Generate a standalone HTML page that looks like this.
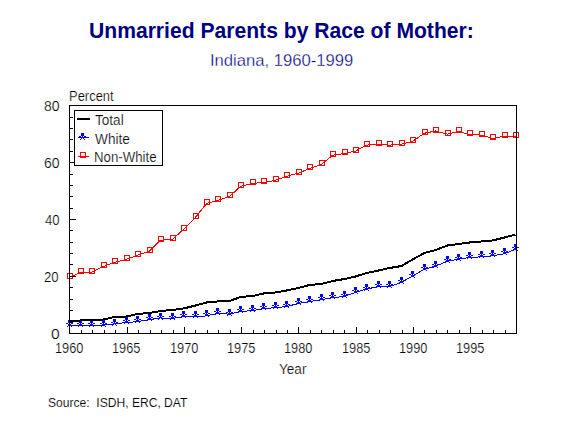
<!DOCTYPE html>
<html><head><meta charset="utf-8"><style>
html,body{margin:0;padding:0;background:#fff;width:566px;height:425px;overflow:hidden;}
svg{display:block;}
text{white-space:pre;}
</style></head><body>
<svg width="566" height="425" viewBox="0 0 566 425">
<polyline points="69.50,325.60 80.50,325.60 91.50,325.40 103.50,325.10 114.50,324.00 126.50,322.40 137.50,321.70 149.50,319.60 160.50,318.00 172.50,318.50 183.50,316.60 195.50,316.90 206.50,315.90 217.50,313.40 229.50,314.20 240.50,311.40 252.50,310.70 263.50,308.60 275.50,307.70 286.50,306.60 298.50,303.40 309.50,301.50 321.50,299.60 332.50,297.60 344.50,296.50 355.50,292.30 366.50,289.10 378.50,286.50 389.50,286.70 401.50,282.30 412.50,276.10 424.50,269.20 435.50,266.20 447.50,261.20 458.50,259.30 469.50,257.30 481.50,256.90 492.50,255.70 504.50,253.80 515.50,249.20" fill="none" stroke="#00f" stroke-width="1" shape-rendering="crispEdges"/>
<polyline points="69.50,277.30 80.50,272.40 91.50,272.40 103.50,266.40 114.50,262.50 126.50,259.30 137.50,255.30 149.50,251.20 160.50,240.20 172.50,239.20 183.50,229.40 195.50,217.30 206.50,203.50 217.50,200.40 229.50,196.50 240.50,186.30 252.50,183.30 263.50,182.50 275.50,180.30 286.50,176.30 298.50,173.10 309.50,168.50 321.50,164.30 332.50,155.30 344.50,153.50 355.50,151.10 366.50,145.10 378.50,144.10 389.50,145.10 401.50,144.10 412.50,141.30 424.50,133.20 435.50,131.00 447.50,134.20 458.50,131.40 469.50,134.40 481.50,135.20 492.50,138.40 504.50,136.30 515.50,136.30" fill="none" stroke="#f00" stroke-width="1" shape-rendering="crispEdges"/>
<g shape-rendering="crispEdges" fill="#00f">
<rect x="68" y="320" width="3" height="3"/><rect x="66" y="323" width="1" height="1"/><rect x="67" y="323" width="1" height="1"/><rect x="69" y="323" width="1" height="1"/><rect x="71" y="323" width="1" height="1"/><rect x="72" y="323" width="1" height="1"/><rect x="68" y="324" width="3" height="1"/><rect x="68" y="325" width="1" height="1"/><rect x="70" y="325" width="1" height="1"/><rect x="67" y="326" width="1" height="1"/><rect x="71" y="326" width="1" height="1"/>
<rect x="79" y="320" width="3" height="3"/><rect x="77" y="323" width="1" height="1"/><rect x="78" y="323" width="1" height="1"/><rect x="80" y="323" width="1" height="1"/><rect x="82" y="323" width="1" height="1"/><rect x="83" y="323" width="1" height="1"/><rect x="79" y="324" width="3" height="1"/><rect x="79" y="325" width="1" height="1"/><rect x="81" y="325" width="1" height="1"/><rect x="78" y="326" width="1" height="1"/><rect x="82" y="326" width="1" height="1"/>
<rect x="90" y="320" width="3" height="3"/><rect x="88" y="323" width="1" height="1"/><rect x="89" y="323" width="1" height="1"/><rect x="91" y="323" width="1" height="1"/><rect x="93" y="323" width="1" height="1"/><rect x="94" y="323" width="1" height="1"/><rect x="90" y="324" width="3" height="1"/><rect x="90" y="325" width="1" height="1"/><rect x="92" y="325" width="1" height="1"/><rect x="89" y="326" width="1" height="1"/><rect x="93" y="326" width="1" height="1"/>
<rect x="102" y="320" width="3" height="3"/><rect x="100" y="323" width="1" height="1"/><rect x="101" y="323" width="1" height="1"/><rect x="103" y="323" width="1" height="1"/><rect x="105" y="323" width="1" height="1"/><rect x="106" y="323" width="1" height="1"/><rect x="102" y="324" width="3" height="1"/><rect x="102" y="325" width="1" height="1"/><rect x="104" y="325" width="1" height="1"/><rect x="101" y="326" width="1" height="1"/><rect x="105" y="326" width="1" height="1"/>
<rect x="113" y="319" width="3" height="3"/><rect x="111" y="322" width="1" height="1"/><rect x="112" y="322" width="1" height="1"/><rect x="114" y="322" width="1" height="1"/><rect x="116" y="322" width="1" height="1"/><rect x="117" y="322" width="1" height="1"/><rect x="113" y="323" width="3" height="1"/><rect x="113" y="324" width="1" height="1"/><rect x="115" y="324" width="1" height="1"/><rect x="112" y="325" width="1" height="1"/><rect x="116" y="325" width="1" height="1"/>
<rect x="125" y="317" width="3" height="3"/><rect x="123" y="320" width="1" height="1"/><rect x="124" y="320" width="1" height="1"/><rect x="126" y="320" width="1" height="1"/><rect x="128" y="320" width="1" height="1"/><rect x="129" y="320" width="1" height="1"/><rect x="125" y="321" width="3" height="1"/><rect x="125" y="322" width="1" height="1"/><rect x="127" y="322" width="1" height="1"/><rect x="124" y="323" width="1" height="1"/><rect x="128" y="323" width="1" height="1"/>
<rect x="136" y="316" width="3" height="3"/><rect x="134" y="319" width="1" height="1"/><rect x="135" y="319" width="1" height="1"/><rect x="137" y="319" width="1" height="1"/><rect x="139" y="319" width="1" height="1"/><rect x="140" y="319" width="1" height="1"/><rect x="136" y="320" width="3" height="1"/><rect x="136" y="321" width="1" height="1"/><rect x="138" y="321" width="1" height="1"/><rect x="135" y="322" width="1" height="1"/><rect x="139" y="322" width="1" height="1"/>
<rect x="148" y="314" width="3" height="3"/><rect x="146" y="317" width="1" height="1"/><rect x="147" y="317" width="1" height="1"/><rect x="149" y="317" width="1" height="1"/><rect x="151" y="317" width="1" height="1"/><rect x="152" y="317" width="1" height="1"/><rect x="148" y="318" width="3" height="1"/><rect x="148" y="319" width="1" height="1"/><rect x="150" y="319" width="1" height="1"/><rect x="147" y="320" width="1" height="1"/><rect x="151" y="320" width="1" height="1"/>
<rect x="159" y="313" width="3" height="3"/><rect x="157" y="316" width="1" height="1"/><rect x="158" y="316" width="1" height="1"/><rect x="160" y="316" width="1" height="1"/><rect x="162" y="316" width="1" height="1"/><rect x="163" y="316" width="1" height="1"/><rect x="159" y="317" width="3" height="1"/><rect x="159" y="318" width="1" height="1"/><rect x="161" y="318" width="1" height="1"/><rect x="158" y="319" width="1" height="1"/><rect x="162" y="319" width="1" height="1"/>
<rect x="171" y="313" width="3" height="3"/><rect x="169" y="316" width="1" height="1"/><rect x="170" y="316" width="1" height="1"/><rect x="172" y="316" width="1" height="1"/><rect x="174" y="316" width="1" height="1"/><rect x="175" y="316" width="1" height="1"/><rect x="171" y="317" width="3" height="1"/><rect x="171" y="318" width="1" height="1"/><rect x="173" y="318" width="1" height="1"/><rect x="170" y="319" width="1" height="1"/><rect x="174" y="319" width="1" height="1"/>
<rect x="182" y="311" width="3" height="3"/><rect x="180" y="314" width="1" height="1"/><rect x="181" y="314" width="1" height="1"/><rect x="183" y="314" width="1" height="1"/><rect x="185" y="314" width="1" height="1"/><rect x="186" y="314" width="1" height="1"/><rect x="182" y="315" width="3" height="1"/><rect x="182" y="316" width="1" height="1"/><rect x="184" y="316" width="1" height="1"/><rect x="181" y="317" width="1" height="1"/><rect x="185" y="317" width="1" height="1"/>
<rect x="194" y="311" width="3" height="3"/><rect x="192" y="314" width="1" height="1"/><rect x="193" y="314" width="1" height="1"/><rect x="195" y="314" width="1" height="1"/><rect x="197" y="314" width="1" height="1"/><rect x="198" y="314" width="1" height="1"/><rect x="194" y="315" width="3" height="1"/><rect x="194" y="316" width="1" height="1"/><rect x="196" y="316" width="1" height="1"/><rect x="193" y="317" width="1" height="1"/><rect x="197" y="317" width="1" height="1"/>
<rect x="205" y="310" width="3" height="3"/><rect x="203" y="313" width="1" height="1"/><rect x="204" y="313" width="1" height="1"/><rect x="206" y="313" width="1" height="1"/><rect x="208" y="313" width="1" height="1"/><rect x="209" y="313" width="1" height="1"/><rect x="205" y="314" width="3" height="1"/><rect x="205" y="315" width="1" height="1"/><rect x="207" y="315" width="1" height="1"/><rect x="204" y="316" width="1" height="1"/><rect x="208" y="316" width="1" height="1"/>
<rect x="216" y="308" width="3" height="3"/><rect x="214" y="311" width="1" height="1"/><rect x="215" y="311" width="1" height="1"/><rect x="217" y="311" width="1" height="1"/><rect x="219" y="311" width="1" height="1"/><rect x="220" y="311" width="1" height="1"/><rect x="216" y="312" width="3" height="1"/><rect x="216" y="313" width="1" height="1"/><rect x="218" y="313" width="1" height="1"/><rect x="215" y="314" width="1" height="1"/><rect x="219" y="314" width="1" height="1"/>
<rect x="228" y="309" width="3" height="3"/><rect x="226" y="312" width="1" height="1"/><rect x="227" y="312" width="1" height="1"/><rect x="229" y="312" width="1" height="1"/><rect x="231" y="312" width="1" height="1"/><rect x="232" y="312" width="1" height="1"/><rect x="228" y="313" width="3" height="1"/><rect x="228" y="314" width="1" height="1"/><rect x="230" y="314" width="1" height="1"/><rect x="227" y="315" width="1" height="1"/><rect x="231" y="315" width="1" height="1"/>
<rect x="239" y="306" width="3" height="3"/><rect x="237" y="309" width="1" height="1"/><rect x="238" y="309" width="1" height="1"/><rect x="240" y="309" width="1" height="1"/><rect x="242" y="309" width="1" height="1"/><rect x="243" y="309" width="1" height="1"/><rect x="239" y="310" width="3" height="1"/><rect x="239" y="311" width="1" height="1"/><rect x="241" y="311" width="1" height="1"/><rect x="238" y="312" width="1" height="1"/><rect x="242" y="312" width="1" height="1"/>
<rect x="251" y="305" width="3" height="3"/><rect x="249" y="308" width="1" height="1"/><rect x="250" y="308" width="1" height="1"/><rect x="252" y="308" width="1" height="1"/><rect x="254" y="308" width="1" height="1"/><rect x="255" y="308" width="1" height="1"/><rect x="251" y="309" width="3" height="1"/><rect x="251" y="310" width="1" height="1"/><rect x="253" y="310" width="1" height="1"/><rect x="250" y="311" width="1" height="1"/><rect x="254" y="311" width="1" height="1"/>
<rect x="262" y="303" width="3" height="3"/><rect x="260" y="306" width="1" height="1"/><rect x="261" y="306" width="1" height="1"/><rect x="263" y="306" width="1" height="1"/><rect x="265" y="306" width="1" height="1"/><rect x="266" y="306" width="1" height="1"/><rect x="262" y="307" width="3" height="1"/><rect x="262" y="308" width="1" height="1"/><rect x="264" y="308" width="1" height="1"/><rect x="261" y="309" width="1" height="1"/><rect x="265" y="309" width="1" height="1"/>
<rect x="274" y="302" width="3" height="3"/><rect x="272" y="305" width="1" height="1"/><rect x="273" y="305" width="1" height="1"/><rect x="275" y="305" width="1" height="1"/><rect x="277" y="305" width="1" height="1"/><rect x="278" y="305" width="1" height="1"/><rect x="274" y="306" width="3" height="1"/><rect x="274" y="307" width="1" height="1"/><rect x="276" y="307" width="1" height="1"/><rect x="273" y="308" width="1" height="1"/><rect x="277" y="308" width="1" height="1"/>
<rect x="285" y="301" width="3" height="3"/><rect x="283" y="304" width="1" height="1"/><rect x="284" y="304" width="1" height="1"/><rect x="286" y="304" width="1" height="1"/><rect x="288" y="304" width="1" height="1"/><rect x="289" y="304" width="1" height="1"/><rect x="285" y="305" width="3" height="1"/><rect x="285" y="306" width="1" height="1"/><rect x="287" y="306" width="1" height="1"/><rect x="284" y="307" width="1" height="1"/><rect x="288" y="307" width="1" height="1"/>
<rect x="297" y="298" width="3" height="3"/><rect x="295" y="301" width="1" height="1"/><rect x="296" y="301" width="1" height="1"/><rect x="298" y="301" width="1" height="1"/><rect x="300" y="301" width="1" height="1"/><rect x="301" y="301" width="1" height="1"/><rect x="297" y="302" width="3" height="1"/><rect x="297" y="303" width="1" height="1"/><rect x="299" y="303" width="1" height="1"/><rect x="296" y="304" width="1" height="1"/><rect x="300" y="304" width="1" height="1"/>
<rect x="308" y="296" width="3" height="3"/><rect x="306" y="299" width="1" height="1"/><rect x="307" y="299" width="1" height="1"/><rect x="309" y="299" width="1" height="1"/><rect x="311" y="299" width="1" height="1"/><rect x="312" y="299" width="1" height="1"/><rect x="308" y="300" width="3" height="1"/><rect x="308" y="301" width="1" height="1"/><rect x="310" y="301" width="1" height="1"/><rect x="307" y="302" width="1" height="1"/><rect x="311" y="302" width="1" height="1"/>
<rect x="320" y="294" width="3" height="3"/><rect x="318" y="297" width="1" height="1"/><rect x="319" y="297" width="1" height="1"/><rect x="321" y="297" width="1" height="1"/><rect x="323" y="297" width="1" height="1"/><rect x="324" y="297" width="1" height="1"/><rect x="320" y="298" width="3" height="1"/><rect x="320" y="299" width="1" height="1"/><rect x="322" y="299" width="1" height="1"/><rect x="319" y="300" width="1" height="1"/><rect x="323" y="300" width="1" height="1"/>
<rect x="331" y="292" width="3" height="3"/><rect x="329" y="295" width="1" height="1"/><rect x="330" y="295" width="1" height="1"/><rect x="332" y="295" width="1" height="1"/><rect x="334" y="295" width="1" height="1"/><rect x="335" y="295" width="1" height="1"/><rect x="331" y="296" width="3" height="1"/><rect x="331" y="297" width="1" height="1"/><rect x="333" y="297" width="1" height="1"/><rect x="330" y="298" width="1" height="1"/><rect x="334" y="298" width="1" height="1"/>
<rect x="343" y="291" width="3" height="3"/><rect x="341" y="294" width="1" height="1"/><rect x="342" y="294" width="1" height="1"/><rect x="344" y="294" width="1" height="1"/><rect x="346" y="294" width="1" height="1"/><rect x="347" y="294" width="1" height="1"/><rect x="343" y="295" width="3" height="1"/><rect x="343" y="296" width="1" height="1"/><rect x="345" y="296" width="1" height="1"/><rect x="342" y="297" width="1" height="1"/><rect x="346" y="297" width="1" height="1"/>
<rect x="354" y="287" width="3" height="3"/><rect x="352" y="290" width="1" height="1"/><rect x="353" y="290" width="1" height="1"/><rect x="355" y="290" width="1" height="1"/><rect x="357" y="290" width="1" height="1"/><rect x="358" y="290" width="1" height="1"/><rect x="354" y="291" width="3" height="1"/><rect x="354" y="292" width="1" height="1"/><rect x="356" y="292" width="1" height="1"/><rect x="353" y="293" width="1" height="1"/><rect x="357" y="293" width="1" height="1"/>
<rect x="365" y="284" width="3" height="3"/><rect x="363" y="287" width="1" height="1"/><rect x="364" y="287" width="1" height="1"/><rect x="366" y="287" width="1" height="1"/><rect x="368" y="287" width="1" height="1"/><rect x="369" y="287" width="1" height="1"/><rect x="365" y="288" width="3" height="1"/><rect x="365" y="289" width="1" height="1"/><rect x="367" y="289" width="1" height="1"/><rect x="364" y="290" width="1" height="1"/><rect x="368" y="290" width="1" height="1"/>
<rect x="377" y="281" width="3" height="3"/><rect x="375" y="284" width="1" height="1"/><rect x="376" y="284" width="1" height="1"/><rect x="378" y="284" width="1" height="1"/><rect x="380" y="284" width="1" height="1"/><rect x="381" y="284" width="1" height="1"/><rect x="377" y="285" width="3" height="1"/><rect x="377" y="286" width="1" height="1"/><rect x="379" y="286" width="1" height="1"/><rect x="376" y="287" width="1" height="1"/><rect x="380" y="287" width="1" height="1"/>
<rect x="388" y="281" width="3" height="3"/><rect x="386" y="284" width="1" height="1"/><rect x="387" y="284" width="1" height="1"/><rect x="389" y="284" width="1" height="1"/><rect x="391" y="284" width="1" height="1"/><rect x="392" y="284" width="1" height="1"/><rect x="388" y="285" width="3" height="1"/><rect x="388" y="286" width="1" height="1"/><rect x="390" y="286" width="1" height="1"/><rect x="387" y="287" width="1" height="1"/><rect x="391" y="287" width="1" height="1"/>
<rect x="400" y="277" width="3" height="3"/><rect x="398" y="280" width="1" height="1"/><rect x="399" y="280" width="1" height="1"/><rect x="401" y="280" width="1" height="1"/><rect x="403" y="280" width="1" height="1"/><rect x="404" y="280" width="1" height="1"/><rect x="400" y="281" width="3" height="1"/><rect x="400" y="282" width="1" height="1"/><rect x="402" y="282" width="1" height="1"/><rect x="399" y="283" width="1" height="1"/><rect x="403" y="283" width="1" height="1"/>
<rect x="411" y="271" width="3" height="3"/><rect x="409" y="274" width="1" height="1"/><rect x="410" y="274" width="1" height="1"/><rect x="412" y="274" width="1" height="1"/><rect x="414" y="274" width="1" height="1"/><rect x="415" y="274" width="1" height="1"/><rect x="411" y="275" width="3" height="1"/><rect x="411" y="276" width="1" height="1"/><rect x="413" y="276" width="1" height="1"/><rect x="410" y="277" width="1" height="1"/><rect x="414" y="277" width="1" height="1"/>
<rect x="423" y="264" width="3" height="3"/><rect x="421" y="267" width="1" height="1"/><rect x="422" y="267" width="1" height="1"/><rect x="424" y="267" width="1" height="1"/><rect x="426" y="267" width="1" height="1"/><rect x="427" y="267" width="1" height="1"/><rect x="423" y="268" width="3" height="1"/><rect x="423" y="269" width="1" height="1"/><rect x="425" y="269" width="1" height="1"/><rect x="422" y="270" width="1" height="1"/><rect x="426" y="270" width="1" height="1"/>
<rect x="434" y="261" width="3" height="3"/><rect x="432" y="264" width="1" height="1"/><rect x="433" y="264" width="1" height="1"/><rect x="435" y="264" width="1" height="1"/><rect x="437" y="264" width="1" height="1"/><rect x="438" y="264" width="1" height="1"/><rect x="434" y="265" width="3" height="1"/><rect x="434" y="266" width="1" height="1"/><rect x="436" y="266" width="1" height="1"/><rect x="433" y="267" width="1" height="1"/><rect x="437" y="267" width="1" height="1"/>
<rect x="446" y="256" width="3" height="3"/><rect x="444" y="259" width="1" height="1"/><rect x="445" y="259" width="1" height="1"/><rect x="447" y="259" width="1" height="1"/><rect x="449" y="259" width="1" height="1"/><rect x="450" y="259" width="1" height="1"/><rect x="446" y="260" width="3" height="1"/><rect x="446" y="261" width="1" height="1"/><rect x="448" y="261" width="1" height="1"/><rect x="445" y="262" width="1" height="1"/><rect x="449" y="262" width="1" height="1"/>
<rect x="457" y="254" width="3" height="3"/><rect x="455" y="257" width="1" height="1"/><rect x="456" y="257" width="1" height="1"/><rect x="458" y="257" width="1" height="1"/><rect x="460" y="257" width="1" height="1"/><rect x="461" y="257" width="1" height="1"/><rect x="457" y="258" width="3" height="1"/><rect x="457" y="259" width="1" height="1"/><rect x="459" y="259" width="1" height="1"/><rect x="456" y="260" width="1" height="1"/><rect x="460" y="260" width="1" height="1"/>
<rect x="468" y="252" width="3" height="3"/><rect x="466" y="255" width="1" height="1"/><rect x="467" y="255" width="1" height="1"/><rect x="469" y="255" width="1" height="1"/><rect x="471" y="255" width="1" height="1"/><rect x="472" y="255" width="1" height="1"/><rect x="468" y="256" width="3" height="1"/><rect x="468" y="257" width="1" height="1"/><rect x="470" y="257" width="1" height="1"/><rect x="467" y="258" width="1" height="1"/><rect x="471" y="258" width="1" height="1"/>
<rect x="480" y="251" width="3" height="3"/><rect x="478" y="254" width="1" height="1"/><rect x="479" y="254" width="1" height="1"/><rect x="481" y="254" width="1" height="1"/><rect x="483" y="254" width="1" height="1"/><rect x="484" y="254" width="1" height="1"/><rect x="480" y="255" width="3" height="1"/><rect x="480" y="256" width="1" height="1"/><rect x="482" y="256" width="1" height="1"/><rect x="479" y="257" width="1" height="1"/><rect x="483" y="257" width="1" height="1"/>
<rect x="491" y="250" width="3" height="3"/><rect x="489" y="253" width="1" height="1"/><rect x="490" y="253" width="1" height="1"/><rect x="492" y="253" width="1" height="1"/><rect x="494" y="253" width="1" height="1"/><rect x="495" y="253" width="1" height="1"/><rect x="491" y="254" width="3" height="1"/><rect x="491" y="255" width="1" height="1"/><rect x="493" y="255" width="1" height="1"/><rect x="490" y="256" width="1" height="1"/><rect x="494" y="256" width="1" height="1"/>
<rect x="503" y="248" width="3" height="3"/><rect x="501" y="251" width="1" height="1"/><rect x="502" y="251" width="1" height="1"/><rect x="504" y="251" width="1" height="1"/><rect x="506" y="251" width="1" height="1"/><rect x="507" y="251" width="1" height="1"/><rect x="503" y="252" width="3" height="1"/><rect x="503" y="253" width="1" height="1"/><rect x="505" y="253" width="1" height="1"/><rect x="502" y="254" width="1" height="1"/><rect x="506" y="254" width="1" height="1"/>
<rect x="514" y="244" width="3" height="3"/><rect x="512" y="247" width="1" height="1"/><rect x="513" y="247" width="1" height="1"/><rect x="515" y="247" width="1" height="1"/><rect x="517" y="247" width="1" height="1"/><rect x="518" y="247" width="1" height="1"/><rect x="514" y="248" width="3" height="1"/><rect x="514" y="249" width="1" height="1"/><rect x="516" y="249" width="1" height="1"/><rect x="513" y="250" width="1" height="1"/><rect x="517" y="250" width="1" height="1"/>
</g>
<g fill="none" stroke="#f00" stroke-width="1" shape-rendering="crispEdges">
<rect x="67.5" y="273.5" width="5" height="5"/>
<rect x="78.5" y="268.5" width="5" height="5"/>
<rect x="89.5" y="268.5" width="5" height="5"/>
<rect x="101.5" y="262.5" width="5" height="5"/>
<rect x="112.5" y="258.5" width="5" height="5"/>
<rect x="124.5" y="255.5" width="5" height="5"/>
<rect x="135.5" y="251.5" width="5" height="5"/>
<rect x="147.5" y="247.5" width="5" height="5"/>
<rect x="158.5" y="236.5" width="5" height="5"/>
<rect x="170.5" y="235.5" width="5" height="5"/>
<rect x="181.5" y="225.5" width="5" height="5"/>
<rect x="193.5" y="213.5" width="5" height="5"/>
<rect x="204.5" y="199.5" width="5" height="5"/>
<rect x="215.5" y="196.5" width="5" height="5"/>
<rect x="227.5" y="192.5" width="5" height="5"/>
<rect x="238.5" y="182.5" width="5" height="5"/>
<rect x="250.5" y="179.5" width="5" height="5"/>
<rect x="261.5" y="178.5" width="5" height="5"/>
<rect x="273.5" y="176.5" width="5" height="5"/>
<rect x="284.5" y="172.5" width="5" height="5"/>
<rect x="296.5" y="169.5" width="5" height="5"/>
<rect x="307.5" y="164.5" width="5" height="5"/>
<rect x="319.5" y="160.5" width="5" height="5"/>
<rect x="330.5" y="151.5" width="5" height="5"/>
<rect x="342.5" y="149.5" width="5" height="5"/>
<rect x="353.5" y="147.5" width="5" height="5"/>
<rect x="364.5" y="141.5" width="5" height="5"/>
<rect x="376.5" y="140.5" width="5" height="5"/>
<rect x="387.5" y="141.5" width="5" height="5"/>
<rect x="399.5" y="140.5" width="5" height="5"/>
<rect x="410.5" y="137.5" width="5" height="5"/>
<rect x="422.5" y="129.5" width="5" height="5"/>
<rect x="433.5" y="127.5" width="5" height="5"/>
<rect x="445.5" y="130.5" width="5" height="5"/>
<rect x="456.5" y="127.5" width="5" height="5"/>
<rect x="467.5" y="130.5" width="5" height="5"/>
<rect x="479.5" y="131.5" width="5" height="5"/>
<rect x="490.5" y="134.5" width="5" height="5"/>
<rect x="502.5" y="132.5" width="5" height="5"/>
<rect x="513.5" y="132.5" width="5" height="5"/>
</g>
<polyline points="69.50,321.00 80.50,320.50 91.50,320.00 103.50,319.50 114.50,317.00 126.50,316.50 137.50,314.00 149.50,313.00 160.50,311.00 172.50,310.00 183.50,308.50 195.50,305.50 206.50,302.50 217.50,301.50 229.50,301.00 240.50,297.00 252.50,296.00 263.50,293.50 275.50,292.50 286.50,290.50 298.50,288.00 309.50,285.00 321.50,284.00 332.50,281.00 344.50,279.00 355.50,276.50 366.50,273.00 378.50,270.50 389.50,268.00 401.50,266.00 412.50,259.50 424.50,253.00 435.50,250.00 447.50,245.50 458.50,244.00 469.50,242.50 481.50,241.50 492.50,240.50 504.50,237.50 515.50,234.50" fill="none" stroke="#000" stroke-width="2" shape-rendering="crispEdges"/>
<g shape-rendering="crispEdges" fill="#000">
<rect x="69" y="105" width="448" height="1"/>
<rect x="69" y="333" width="448" height="1"/>
<rect x="69" y="105" width="1" height="229"/>
<rect x="516" y="105" width="1" height="229"/>
<rect x="70" y="333" width="6" height="1"/>
<rect x="70" y="322" width="3" height="1"/>
<rect x="70" y="310" width="3" height="1"/>
<rect x="70" y="299" width="3" height="1"/>
<rect x="70" y="287" width="3" height="1"/>
<rect x="70" y="276" width="6" height="1"/>
<rect x="70" y="264" width="3" height="1"/>
<rect x="70" y="253" width="3" height="1"/>
<rect x="70" y="242" width="3" height="1"/>
<rect x="70" y="230" width="3" height="1"/>
<rect x="70" y="219" width="6" height="1"/>
<rect x="70" y="208" width="3" height="1"/>
<rect x="70" y="196" width="3" height="1"/>
<rect x="70" y="185" width="3" height="1"/>
<rect x="70" y="174" width="3" height="1"/>
<rect x="70" y="162" width="6" height="1"/>
<rect x="70" y="151" width="3" height="1"/>
<rect x="70" y="139" width="3" height="1"/>
<rect x="70" y="128" width="3" height="1"/>
<rect x="70" y="117" width="3" height="1"/>
<rect x="70" y="105" width="6" height="1"/>
<rect x="69" y="327" width="1" height="6"/>
<rect x="81" y="330" width="1" height="3"/>
<rect x="92" y="330" width="1" height="3"/>
<rect x="104" y="330" width="1" height="3"/>
<rect x="115" y="330" width="1" height="3"/>
<rect x="127" y="327" width="1" height="6"/>
<rect x="138" y="330" width="1" height="3"/>
<rect x="150" y="330" width="1" height="3"/>
<rect x="161" y="330" width="1" height="3"/>
<rect x="173" y="330" width="1" height="3"/>
<rect x="184" y="327" width="1" height="6"/>
<rect x="195" y="330" width="1" height="3"/>
<rect x="207" y="330" width="1" height="3"/>
<rect x="218" y="330" width="1" height="3"/>
<rect x="230" y="330" width="1" height="3"/>
<rect x="241" y="327" width="1" height="6"/>
<rect x="253" y="330" width="1" height="3"/>
<rect x="264" y="330" width="1" height="3"/>
<rect x="276" y="330" width="1" height="3"/>
<rect x="287" y="330" width="1" height="3"/>
<rect x="298" y="327" width="1" height="6"/>
<rect x="310" y="330" width="1" height="3"/>
<rect x="321" y="330" width="1" height="3"/>
<rect x="333" y="330" width="1" height="3"/>
<rect x="344" y="330" width="1" height="3"/>
<rect x="356" y="327" width="1" height="6"/>
<rect x="367" y="330" width="1" height="3"/>
<rect x="379" y="330" width="1" height="3"/>
<rect x="390" y="330" width="1" height="3"/>
<rect x="402" y="330" width="1" height="3"/>
<rect x="413" y="327" width="1" height="6"/>
<rect x="424" y="330" width="1" height="3"/>
<rect x="436" y="330" width="1" height="3"/>
<rect x="447" y="330" width="1" height="3"/>
<rect x="459" y="330" width="1" height="3"/>
<rect x="470" y="327" width="1" height="6"/>
<rect x="482" y="330" width="1" height="3"/>
<rect x="493" y="330" width="1" height="3"/>
<rect x="505" y="330" width="1" height="3"/>
<rect x="516" y="330" width="1" height="3"/>
</g>
<g shape-rendering="crispEdges">
<rect x="74.5" y="110.5" width="88" height="55" fill="#fff" stroke="#000" stroke-width="1"/>
<rect x="77" y="118" width="13" height="2" fill="#000"/>
<rect x="78" y="137" width="11" height="1" fill="#00f"/>
<g fill="#00f"><rect x="81" y="133" width="3" height="3"/><rect x="79" y="136" width="1" height="1"/><rect x="80" y="136" width="1" height="1"/><rect x="82" y="136" width="1" height="1"/><rect x="84" y="136" width="1" height="1"/><rect x="85" y="136" width="1" height="1"/><rect x="81" y="137" width="3" height="1"/><rect x="81" y="138" width="1" height="1"/><rect x="83" y="138" width="1" height="1"/><rect x="80" y="139" width="1" height="1"/><rect x="84" y="139" width="1" height="1"/></g>
<rect x="78" y="156" width="11" height="1" fill="#f00"/>
<g fill="none" stroke="#f00"><rect x="80.5" y="152.5" width="5" height="5"/></g>
</g>
<text x="89.00" y="38" font-size="21.5" fill="#000080" font-weight="bold" textLength="384.78" lengthAdjust="spacingAndGlyphs" font-family="&quot;Liberation Sans&quot;, sans-serif">Unmarried Parents by Race of Mother:</text>
<text x="210.00" y="66" font-size="16" fill="#000080" stroke="#fff" stroke-width="0.3" textLength="143.31" lengthAdjust="spacingAndGlyphs" font-family="&quot;Liberation Sans&quot;, sans-serif">Indiana, 1960-1999</text>
<text x="69.00" y="101" font-size="14" fill="#000" stroke="#fff" stroke-width="0.22" textLength="44.65" lengthAdjust="spacingAndGlyphs" font-family="&quot;Liberation Sans&quot;, sans-serif">Percent</text>
<text x="95.00" y="125" font-size="14" fill="#000" stroke="#fff" stroke-width="0.22" textLength="28.68" lengthAdjust="spacingAndGlyphs" font-family="&quot;Liberation Sans&quot;, sans-serif">Total</text>
<text x="95.00" y="144" font-size="14" fill="#000" stroke="#fff" stroke-width="0.22" textLength="34.90" lengthAdjust="spacingAndGlyphs" font-family="&quot;Liberation Sans&quot;, sans-serif">White</text>
<text x="94.00" y="162" font-size="14" fill="#000" stroke="#fff" stroke-width="0.22" textLength="62.54" lengthAdjust="spacingAndGlyphs" font-family="&quot;Liberation Sans&quot;, sans-serif">Non-White</text>
<text x="44.00" y="111" font-size="14" fill="#000" stroke="#fff" stroke-width="0.22" textLength="15.58" lengthAdjust="spacingAndGlyphs" font-family="&quot;Liberation Sans&quot;, sans-serif">80</text>
<text x="44.00" y="168" font-size="14" fill="#000" stroke="#fff" stroke-width="0.22" textLength="15.58" lengthAdjust="spacingAndGlyphs" font-family="&quot;Liberation Sans&quot;, sans-serif">60</text>
<text x="45.00" y="225" font-size="14" fill="#000" stroke="#fff" stroke-width="0.22" textLength="14.68" lengthAdjust="spacingAndGlyphs" font-family="&quot;Liberation Sans&quot;, sans-serif">40</text>
<text x="44.00" y="282" font-size="14" fill="#000" stroke="#fff" stroke-width="0.22" textLength="14.68" lengthAdjust="spacingAndGlyphs" font-family="&quot;Liberation Sans&quot;, sans-serif">20</text>
<text x="51.00" y="339" font-size="14" fill="#000" stroke="#fff" stroke-width="0.22" textLength="8.70" lengthAdjust="spacingAndGlyphs" font-family="&quot;Liberation Sans&quot;, sans-serif">0</text>
<text x="55.00" y="353" font-size="14" fill="#000" stroke="#fff" stroke-width="0.22" textLength="28.46" lengthAdjust="spacingAndGlyphs" font-family="&quot;Liberation Sans&quot;, sans-serif">1960</text>
<text x="112.00" y="353" font-size="14" fill="#000" stroke="#fff" stroke-width="0.22" textLength="28.46" lengthAdjust="spacingAndGlyphs" font-family="&quot;Liberation Sans&quot;, sans-serif">1965</text>
<text x="170.00" y="353" font-size="14" fill="#000" stroke="#fff" stroke-width="0.22" textLength="28.46" lengthAdjust="spacingAndGlyphs" font-family="&quot;Liberation Sans&quot;, sans-serif">1970</text>
<text x="227.00" y="353" font-size="14" fill="#000" stroke="#fff" stroke-width="0.22" textLength="28.46" lengthAdjust="spacingAndGlyphs" font-family="&quot;Liberation Sans&quot;, sans-serif">1975</text>
<text x="284.00" y="353" font-size="14" fill="#000" stroke="#fff" stroke-width="0.22" textLength="28.46" lengthAdjust="spacingAndGlyphs" font-family="&quot;Liberation Sans&quot;, sans-serif">1980</text>
<text x="342.00" y="353" font-size="14" fill="#000" stroke="#fff" stroke-width="0.22" textLength="28.46" lengthAdjust="spacingAndGlyphs" font-family="&quot;Liberation Sans&quot;, sans-serif">1985</text>
<text x="399.00" y="353" font-size="14" fill="#000" stroke="#fff" stroke-width="0.22" textLength="28.46" lengthAdjust="spacingAndGlyphs" font-family="&quot;Liberation Sans&quot;, sans-serif">1990</text>
<text x="456.00" y="353" font-size="14" fill="#000" stroke="#fff" stroke-width="0.22" textLength="28.46" lengthAdjust="spacingAndGlyphs" font-family="&quot;Liberation Sans&quot;, sans-serif">1995</text>
<text x="279.00" y="374" font-size="14" fill="#000" stroke="#fff" stroke-width="0.22" textLength="27.40" lengthAdjust="spacingAndGlyphs" font-family="&quot;Liberation Sans&quot;, sans-serif">Year</text>
<text x="48.00" y="407" font-size="12" fill="#000" stroke="#fff" stroke-width="0.12" textLength="139.38" lengthAdjust="spacingAndGlyphs" font-family="&quot;Liberation Sans&quot;, sans-serif">Source:  ISDH, ERC, DAT</text>
</svg>
</body></html>
